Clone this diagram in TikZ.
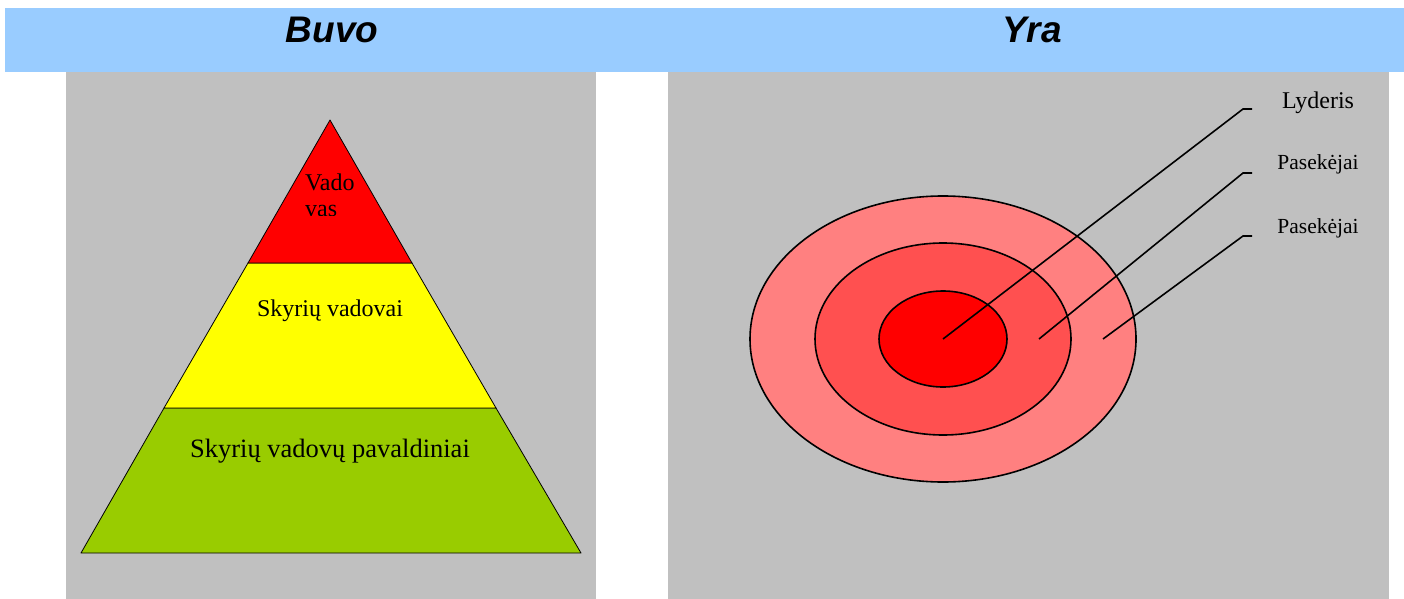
\documentclass[tikz,border=0pt]{standalone}
\usepackage{fontspec}
\setmainfont{Liberation Serif}
\newfontfamily\headfont{Liberation Sans}
\usetikzlibrary{positioning}
\definecolor{skyband}{HTML}{99CCFF}
\definecolor{panelgray}{HTML}{C0C0C0}
\definecolor{topred}{HTML}{FF0000}
\definecolor{midyellow}{HTML}{FFFF00}
\definecolor{basegreen}{HTML}{99CC00}
\definecolor{ringouter}{HTML}{FF8080}
\definecolor{ringmid}{HTML}{FF5050}
\tikzset{
  head/.style={font=\headfont\bfseries\itshape\fontsize{37}{40}\selectfont, anchor=base, inner sep=0pt},
  lvl/.style={font=\fontsize{24}{28}\selectfont, anchor=base, inner sep=0pt},
  tag/.style={font=\fontsize{21.5}{24}\selectfont, anchor=base, inner sep=0pt},
  layer/.style={draw=black, line width=0.8pt, line join=round},
  ring/.style={draw=black, line width=1.6pt},
  lead/.style={draw=black, line width=1.6pt}
}

\begin{document}
\begin{tikzpicture}[x=1pt, y=-1pt]
  \useasboundingbox[fill=white] (0,0) rectangle (1404,599);
  % panels and header band
  \fill[panelgray] (66,72) rectangle (596,599);
  \fill[panelgray] (668,72) rectangle (1389,599);
  \fill[skyband] (5,8) rectangle (1404,72);
  \node[head] (buvo) at (332,43) {Buvo};
  \node[head] (yra) at (1032,43) {Yra};

  % pyramid
  \filldraw[layer, fill=basegreen] (164,408) -- (496,408) -- (581,553) -- (81,553) -- cycle;
  \filldraw[layer, fill=midyellow] (248,263) -- (412,263) -- (496,408) -- (164,408) -- cycle;
  \filldraw[layer, fill=topred] (330,120) -- (412,263) -- (248,263) -- cycle;
  \begin{scope}
    \clip (248,120) rectangle (412,215.5);
    \node[lvl, anchor=base west] (vado) at (305,190) {Vado};
    \node[lvl, anchor=base west] (vas) at (305,216.5) {vas};
  \end{scope}
  \node[lvl] (skv) at (330,316) {Skyrių vadovai};
  \node[lvl, font=\fontsize{26.5}{30}\selectfont] (skp) at (330,457) {Skyrių vadovų pavaldiniai};

  % rings
  \filldraw[ring, fill=ringouter] (943,339) ellipse [x radius=193pt, y radius=143pt];
  \filldraw[ring, fill=ringmid] (943,339) ellipse [x radius=128pt, y radius=96pt];
  \filldraw[ring, fill=topred] (943,339) ellipse [x radius=64pt, y radius=48pt];
  \coordinate (c0) at (943,339);
  \coordinate (c1) at (1039,339);
  \coordinate (c2) at (1103,339);
  \coordinate (k0) at (1243,109);
  \coordinate (k1) at (1243,173);
  \coordinate (k2) at (1243,236);
  \foreach \s/\k in {c0/k0,c1/k1,c2/k2}
    \draw[lead] (\s) -- (\k) -- ++(9,0);
  \node[tag, font=\fontsize{24}{27}\selectfont] (lyd) at (1318,109) {Lyderis};
  \node[tag] (pas1) at (1318,169) {Pasekėjai};
  \node[tag] (pas2) at (1318,233) {Pasekėjai};
\end{tikzpicture}
\end{document}
